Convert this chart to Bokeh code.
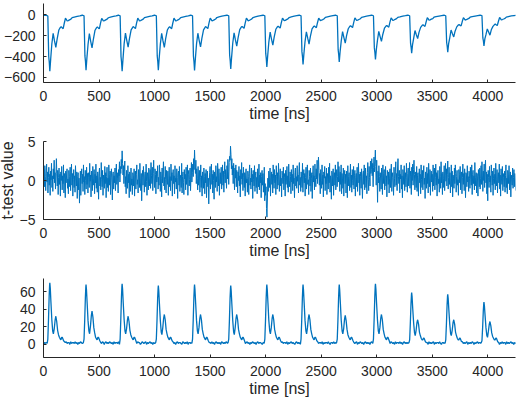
import numpy as np
from bokeh.plotting import figure
from bokeh.layouts import column
from bokeh.models import FixedTicker, Range1d
from bokeh.embed import file_html
from bokeh.resources import INLINE

LINE = "#0072BD"
AXIS = "#262626"
FONT = "Liberation Sans"

x_ticks = [0, 500, 1000, 1500, 2000, 2500, 3000, 3500, 4000]
x_label = "time [ns]"
mid_y_label = "t-test value"

# Time (ns) of the main extremum in each of the thirteen periods
cycle_t = [57, 383, 708, 1034, 1360, 1686, 2011, 2337, 2663, 2989, 3315, 3640, 3966]

# ---- top trace: sample offsets (ns) relative to each cycle's minimum, and values
top_offsets = [-30, -18, -10, -5, 0, 8, 18, 30, 42, 54, 66, 81, 95, 102, 112,
               120, 130, 141, 148, 156, 166, 177, 190, 201, 220, 246, 270, 291]
top_lead_t = [0]
top_lead_v = [-4]
top_cycles = [
    [-4, -10, -400, -455, -542, -420, -280, -177, -250, -313, -230, -145, -120, -113, -125, -132, -80, -32, -42, -58, -55, -48, -40, -26, -20, -13, -8, -3],
    [-3, -9, -394, -447, -532, -412, -284, -180, -254, -318, -234, -147, -122, -115, -127, -134, -81, -33, -43, -58, -55, -48, -40, -27, -20, -13, -8, -3],
    [-3, -9, -401, -455, -542, -420, -278, -175, -247, -310, -228, -144, -119, -112, -124, -131, -79, -32, -42, -57, -54, -48, -40, -26, -20, -13, -8, -3],
    [-3, -9, -394, -447, -532, -412, -281, -178, -250, -312, -229, -145, -120, -113, -125, -132, -80, -32, -42, -57, -54, -47, -39, -26, -20, -13, -8, -3],
    [-3, -9, -396, -449, -535, -415, -278, -176, -247, -308, -226, -143, -119, -112, -124, -131, -79, -31, -41, -56, -54, -47, -39, -25, -19, -12, -7, -3],
    [-3, -9, -385, -437, -520, -403, -272, -172, -240, -300, -221, -141, -117, -110, -121, -128, -78, -31, -41, -56, -53, -46, -38, -25, -19, -12, -7, -3],
    [-3, -9, -370, -420, -500, -388, -261, -165, -232, -290, -213, -138, -114, -108, -119, -126, -76, -30, -40, -55, -52, -45, -38, -25, -19, -12, -7, -3],
    [-3, -9, -353, -401, -477, -370, -256, -162, -224, -280, -206, -135, -112, -106, -116, -123, -75, -30, -40, -54, -51, -45, -37, -24, -18, -12, -7, -3],
    [-3, -8, -334, -380, -452, -350, -250, -160, -218, -272, -200, -133, -110, -104, -114, -121, -74, -29, -39, -53, -50, -44, -37, -24, -18, -12, -7, -3],
    [-3, -8, -317, -360, -429, -332, -245, -158, -208, -255, -188, -128, -107, -101, -111, -117, -72, -29, -38, -52, -49, -43, -36, -23, -18, -11, -7, -3],
    [-3, -8, -272, -309, -368, -285, -225, -150, -190, -228, -168, -120, -100, -95, -104, -110, -68, -27, -36, -50, -47, -41, -35, -22, -17, -11, -6, -3],
    [-3, -8, -265, -301, -358, -277, -220, -145, -180, -212, -156, -115, -97, -92, -101, -106, -66, -26, -35, -49, -46, -40, -34, -22, -17, -11, -6, -3],
    [-3, -7, -221, -250, -298, -231, -190, -135, -165, -195, -143, -110, -93, -88, -96, -102, -63, -25, -34, -47, -44, -39, -33, -21, -16, -10, -6, -3],
]
top_y_ticks = [-600, -400, -200, 0]

# ---- middle trace: t-test statistic sampled every 4 ns
ttest_step = 4
ttest_vals = [
    0.3, 1.4, -0.8, 1.9, 0.5, -1.3, 0.9, 2.1, -0.2, 1.1, -1.6, 0.4, 1.7, -0.6, 0.8, -1.9, 1.2, 0.1, 2.2, -0.9,
    0.6, -1.4, 1.5, 0.2, 2.6, -0.3, 1.0, -1.1, 0.7, 2.8, 0.9, -0.7, 1.3, -1.8, 0.4, 1.6, -0.5, 0.8, -2.0, 1.1,
    0.0, 1.8, -1.2, 0.6, -0.4, 2.0, -1.6, 0.9, 0.3, -2.2, 1.2, -0.3, 0.7, 1.5, -1.0, 0.2, -1.7, 1.3, 0.5, -0.8,
    1.7, -1.3, 0.4, 2.1, -0.6, 0.9, -2.0, 0.1, 1.4, -0.9, 0.6, -1.5, 1.9, 0.2, -0.7, 1.1, -2.3, 0.5, 1.0, -1.2,
    0.3, -2.9, -0.8, 1.2, -1.9, 0.6, 1.5, -0.4, 0.8, -1.4, 2.0, -0.2, 0.5, -1.8, 1.3, 0.0, -1.1, 1.7, -0.5, 0.9,
    -1.6, 1.0, 0.4, -0.9, 2.2, -0.1, 0.7, -2.1, 1.2, 0.3, -1.3, 1.8, -0.6, 0.2, 1.4, -1.7, 0.8, -0.3, 2.1, -1.0,
    0.6, -1.5, 1.1, 0.2, -2.4, 0.9, 1.6, -0.7, 0.4, -1.2, 2.3, 0.1, -0.8, 1.3, -1.9, 0.7, 0.2, -1.0, 1.8, -0.4,
    1.0, -2.2, 0.5, 1.7, -0.9, 0.3, -1.4, 2.0, 0.8, -0.6, 1.2, -1.8, 0.4, 1.5, -0.2, -2.5, 0.9, 1.1, -1.1, 0.6,
    -0.3, 1.6, -1.3, 0.7, 2.1, -0.5, 1.0, 0.2, -1.6, 1.4, 0.6, 2.4, -0.2, 1.8, 0.9, 2.7, 1.5, 3.8, 2.2, 0.7,
    1.9, -0.4, 1.2, 2.5, -0.8, 0.5, -1.7, 1.3, 0.1, -1.0, 1.9, -0.3, 0.8, -2.2, 1.1, 0.4, -1.4, 1.6, -0.6, 0.2,
    -1.8, 1.0, 0.6, -0.7, 1.5, -2.0, 0.3, 1.2, -1.1, 0.8, 2.0, -0.5, 0.1, -1.6, 1.4, 0.7, -0.9, 2.2, -0.2, -1.3,
    0.9, -2.6, 0.4, 1.3, -0.6, 1.8, 0.2, -1.5, 0.7, 1.1, -0.8, 2.1, -0.1, -1.9, 1.0, 0.5, -1.2, 1.6, 0.3, -0.7,
    1.4, -1.0, 2.3, 0.6, -0.4, 1.7, -1.3, 0.9, 2.6, 0.2, -0.9, 1.5, 0.8, -1.7, 1.2, -0.2, 0.5, 1.9, -1.1, 0.4,
    -0.6, 2.0, 0.7, -1.4, 1.1, 0.3, -2.1, 1.6, -0.3, 0.9, 2.4, -0.7, 0.4, -1.2, 1.8, 0.1, -1.6, 1.3, 0.6, -0.5,
    1.2, -1.9, 0.2, 1.7, -0.8, 0.5, -1.3, 2.1, 0.0, 1.0, -2.0, 0.8, 1.4, -0.4, 0.6, -1.7, 1.9, -0.2, 0.3, -1.1,
    1.5, 0.4, -2.3, 0.9, 1.2, -0.6, 1.8, -1.4, 0.3, 0.7, -0.9, 2.2, -1.6, 0.5, 1.1, -0.3, -1.8, 1.4, 0.2, 0.8,
    -1.2, 1.7, -0.5, 0.4, 2.0, -1.9, 0.8, 1.3, -0.7, 0.1, 1.6, -1.3, 0.6, 2.3, -0.2, 1.0, 2.1, 0.5, 2.8, 1.4,
    3.9, 2.2, 0.9, 2.6, -0.4, 1.5, 0.3, -1.2, 1.8, -0.6, 0.7, 1.3, -1.5, 0.4, 2.0, -0.9, 0.6, -2.0, 1.1, 0.2,
    -1.0, 1.6, 0.5, -1.7, 0.9, -0.3, 1.4, -2.2, 0.7, 1.2, -0.8, 0.3, -3.0, -0.6, 1.0, 1.8, -1.1, 0.4, 2.1, -0.5,
    0.8, -1.6, 1.3, 0.0, -2.4, 1.1, 0.6, -0.9, 1.9, -0.2, 0.5, -1.4, 2.2, 0.9, -0.7, 1.5, -1.9, 0.3, 1.0, -0.4,
    1.7, -1.1, 0.4, 2.0, -0.6, 1.2, -1.5, 0.8, 2.4, -0.3, 1.4, 0.6, -1.0, 1.9, 0.2, 2.7, 1.1, -0.5, 2.3, 3.1,
    2.6, 4.4, 3.3, 1.5, 2.8, 0.7, 1.9, -0.4, 2.2, 0.9, -1.2, 1.6, 0.3, 2.0, -0.8, 1.3, 0.5, -1.6, 1.1, 0.0,
    1.8, -0.7, 0.6, -2.1, 1.4, 0.2, 2.3, -0.5, 0.9, -1.3, 1.7, 0.4, -0.9, 1.0, -2.0, 0.7, 1.5, -0.3, 0.2, -1.5,
    1.2, 0.5, -1.8, 0.9, 2.0, -0.6, 0.3, -1.1, 1.6, -0.2, 0.8, -2.3, 1.3, 0.1, -0.7, 1.9, -1.4, 0.6, 1.1, -0.9,
    0.4, -1.7, 1.5, 0.2, -0.8, 2.1, -1.2, 0.7, -0.3, 1.0, -2.2, 0.5, 1.3, -0.6, 0.9, -1.5, 0.1, 1.7, -2.6, -0.4,
    -1.9, -0.8, -3.6, -4.7, -2.5, 0.3, -1.4, 1.2, 0.6, -0.9, 1.6, -2.0, 0.4, 1.1, -0.5, 0.8, -1.6, 2.0, 0.2, -1.0,
    1.4, -0.3, 0.7, -1.8, 1.9, 0.5, -1.1, 1.0, -0.6, 2.2, 0.1, -1.4, 0.8, 1.5, -0.7, 0.3, -2.1, 1.2, 0.6, -0.4,
    1.7, -1.2, 0.4, 0.9, -2.0, 1.3, -0.5, 0.2, 1.8, -0.9, 0.6, -1.5, 2.1, 0.0, -0.8, 1.1, 0.5, -1.7, 1.4, -0.2,
    0.8, -1.3, 2.0, -0.4, 0.3, -2.2, 1.0, 1.6, -0.7, 0.5, -1.0, 1.9, -0.1, 0.7, -1.6, 1.2, 2.3, -0.6, 0.4, -1.4,
    1.1, 0.2, -0.9, 2.2, -1.5, 0.6, 1.4, -0.3, 0.9, -2.0, 0.4, 1.7, -1.1, 0.8, 2.0, -0.5, 0.1, -1.8, 1.3, 0.5,
    -0.7, 1.6, -1.4, 0.3, 1.0, -2.3, 0.8, 1.9, -0.2, 0.6, -1.2, 2.1, 0.4, -0.8, 1.5, 0.2, 2.6, -0.4, 1.2, 3.0,
    1.3, -0.6, 0.9, -1.7, 1.4, 0.0, -1.0, 2.0, -0.5, 0.7, -2.1, 1.1, 0.3, 1.8, -1.3, 0.5, -0.4, 1.6, -1.8, 0.9,
    0.2, -1.1, 1.7, -0.3, 2.2, -1.5, 0.6, 0.1, -2.4, 1.2, 0.8, -0.7, 1.5, -1.9, 0.4, 1.0, -0.6, 2.0, -1.2, 0.3,
    1.4, -0.8, 0.5, 2.4, -0.2, 1.8, 0.7, -1.4, 1.1, -0.5, 2.0, -1.7, 0.9, 0.2, -1.0, 1.6, -2.0, 0.6, 1.3, -0.4,
    0.8, -1.6, 1.2, 0.3, -2.2, 1.9, -0.7, 0.5, 1.0, -1.3, 0.2, 2.1, -0.9, 0.7, -1.5, 1.4, 0.0, -0.6, 1.8, -1.1,
    0.6, 1.3, -2.0, 0.4, 0.9, -0.8, 1.7, -1.4, 0.1, 2.2, -0.3, 0.8, -1.9, 1.1, 0.5, -1.0, 1.5, -0.4, -2.3, 0.7,
    1.2, -0.5, 2.0, -1.2, 0.3, 1.6, -0.9, 0.6, -1.7, 1.0, 2.3, 0.1, -1.3, 1.8, 0.4, -0.7, 2.5, 0.9, 1.4, 2.8,
    0.6, 2.2, -0.8, 1.7, 3.0, 1.1, 2.4, 3.9, 1.8, -0.6, 2.6, 0.4, -2.8, 1.2, -0.3, 1.9, 0.5, -1.4, 1.0, 0.2,
    -1.1, 1.6, 0.4, -1.8, 2.0, -0.4, 0.9, 1.4, -1.2, 0.3, 1.8, -0.7, 0.6, -2.1, 1.3, 0.8, -0.5, 1.1, -1.6, 0.2,
    1.5, -0.9, 0.7, 2.1, -1.4, 0.4, 1.0, -0.2, -1.9, 1.7, 0.3, -0.8, 1.2, 2.4, -0.6, 0.9, -1.3, 1.6, 2.8, 0.5,
    -0.4, 1.3, -1.6, 0.8, 0.2, 2.0, -1.1, 0.6, -2.2, 1.4, 0.7, -0.5, 1.9, -1.3, 0.1, 1.0, -0.8, 2.2, 0.4, -1.5,
    0.9, 1.6, -0.7, 0.3, 2.3, -1.0, 1.2, 0.5, -1.8, 1.7, 0.0, 2.1, -0.6, 1.4, 2.6, 0.8, -1.2, 1.1, 0.2, -0.9,
    1.8, -1.4, 0.6, 1.0, -2.0, 0.4, 1.5, -0.3, 0.8, -1.7, 2.0, 0.1, -0.9, 1.3, -1.2, 0.7, 1.9, -0.5, 0.3, -2.3,
    1.1, 0.5, -1.0, 1.7, -0.4, 0.9, -1.6, 2.2, 0.2, -0.8, 1.4, -1.9, 0.6, 1.2, -0.2, 0.8, -1.4, 2.0, -0.7, 0.3,
    1.6, -1.2, 0.4, 2.1, -0.6, 1.0, -2.0, 0.7, 1.3, -0.4, 0.2, -1.5, 1.8, 0.5, -1.0, 2.4, -0.3, 0.9, -1.8, 1.1,
    0.3, -0.9, 1.9, -1.3, 0.6, 2.2, -0.1, 1.5, -0.7, 0.8, 2.5, -1.1, 0.4, 1.7, -0.5, 1.0, -1.6, 0.2, 2.0, -0.8,
    1.2, -2.1, 0.7, 0.3, -1.0, 1.6, -0.4, 2.0, 0.9, -1.5, 0.5, 1.3, -0.6, 0.1, -1.9, 1.4, 0.8, -0.3, 1.8, -1.2,
    0.6, 1.1, -1.7, 0.4, 2.1, -0.5, 0.9, -1.3, 1.5, 0.2, -2.2, 1.0, 0.7, -0.8, 1.9, -0.2, 0.5, -1.4, 1.2, 0.3,
    -1.0, 1.7, 0.1, -0.6, 2.0, -1.8, 0.8, 1.3, -0.4, 0.6, -1.2, 2.3, -0.7, 0.4, 1.0, -1.6, 0.9, 0.2, -2.0, 1.4,
    0.5, -0.8, 1.6, -1.1, 0.3, 1.9, -0.5, 2.4, 0.7, -1.4, 1.2, 0.0, 2.1, -0.9, 1.5, 2.6, -0.3, 1.1, -1.7, 0.8,
    -2.6, 1.3, 0.4, -0.9, 1.8, -0.2, 0.6, -1.5, 2.0, 0.9, -0.6, 1.2, -1.9, 0.3, 1.6, -0.4, 0.8, -1.2, 2.2, 0.1,
    -0.7, 1.4, -1.6, 0.5, 1.0, -0.3, 2.1, -1.1, 0.7, -2.0, 1.5, 0.2, -0.5, 1.8, -1.3, 0.9, 0.4, -0.8, 1.2, -1.5,
    0.6, 2.0, -0.9, 0.3, -1.7, 1.3, 0.8, -0.4, 1.9, -1.2, 0.5, 1.1, -2.1, 0.7, 0.2, -0.6, 1.6, -1.0, 0.4, 1.4,
    -0.8, 0.9, 0.2, -1.3,
]
mid_y_ticks = [-5, 0, 5]

# ---- bottom trace: offsets (ns) relative to each cycle's peak, and values
bot_offsets = [-30, -24, -18, -12, -6, -2, 0, 4, 10, 18, 26, 32, 40, 48, 54, 62,
               70, 78, 86, 94, 100, 106, 112, 118, 124, 132, 140, 148, 156, 164,
               172, 180, 188, 196, 204, 212, 220, 228, 236, 244, 252, 260, 268,
               276, 284, 292]
bot_lead_t = [0, 8, 16, 22]
bot_lead_v = [0, 2, 1, 2]
bot_cycles = [
    [2, 1, 6, 28, 55, 67, 70, 64, 48, 28, 15, 12, 18, 28, 32, 26, 16, 11, 8, 6, 5, 8, 8, 6, 4, 3, 2, 3, 1, 2, 2, 0, 3, 1, 2, 2, 1, 3, 1, 2, 0, 2, 1, 3, 2, 1],
    [1, 2, 6, 27, 53, 65, 68, 62, 47, 27, 15, 12, 21, 33, 38, 31, 19, 13, 8, 6, 5, 8, 8, 6, 4, 2, 1, 3, 2, 0, 2, 3, 1, 2, 1, 3, 2, 1, 2, 0, 3, 1, 2, 2, 1, 3],
    [2, 0, 6, 28, 54, 66, 69, 63, 47, 28, 15, 12, 18, 28, 32, 26, 16, 11, 8, 6, 5, 8, 8, 6, 4, 1, 3, 2, 2, 0, 1, 3, 2, 1, 2, 3, 0, 2, 1, 2, 3, 1, 2, 0, 2, 1],
    [1, 2, 6, 27, 53, 64, 67, 61, 46, 27, 14, 11, 19, 30, 34, 28, 17, 12, 8, 6, 5, 8, 8, 6, 4, 3, 1, 2, 0, 2, 3, 1, 2, 2, 1, 0, 3, 2, 1, 2, 1, 3, 0, 2, 2, 1],
    [2, 1, 6, 27, 53, 65, 68, 62, 47, 27, 15, 12, 19, 30, 34, 28, 17, 12, 8, 6, 5, 8, 8, 6, 4, 2, 2, 1, 3, 1, 2, 0, 2, 3, 1, 2, 1, 2, 0, 3, 2, 1, 2, 1, 3, 2],
    [1, 2, 6, 27, 53, 64, 67, 61, 46, 27, 14, 11, 19, 30, 34, 28, 17, 12, 8, 6, 5, 8, 8, 6, 4, 1, 2, 3, 1, 2, 0, 2, 1, 3, 2, 1, 2, 0, 2, 3, 1, 2, 2, 1, 0, 2],
    [2, 1, 6, 27, 53, 65, 68, 62, 47, 27, 15, 12, 19, 30, 34, 28, 17, 12, 8, 6, 5, 8, 8, 6, 4, 2, 3, 1, 2, 2, 1, 3, 0, 2, 1, 2, 3, 1, 2, 1, 0, 2, 3, 1, 2, 1],
    [2, 0, 6, 27, 53, 65, 68, 62, 47, 27, 15, 12, 19, 30, 34, 28, 17, 12, 8, 6, 5, 8, 8, 6, 4, 3, 1, 2, 2, 1, 3, 0, 2, 1, 2, 2, 1, 3, 1, 0, 2, 2, 1, 3, 1, 2],
    [1, 2, 6, 27, 53, 65, 68, 62, 47, 27, 15, 12, 18, 29, 33, 27, 17, 11, 8, 6, 5, 8, 8, 6, 4, 2, 1, 2, 3, 0, 2, 1, 3, 2, 1, 2, 0, 2, 3, 1, 2, 1, 2, 0, 2, 3],
    [2, 1, 6, 28, 54, 66, 69, 63, 47, 28, 15, 12, 19, 30, 34, 28, 17, 12, 8, 6, 5, 8, 8, 6, 4, 1, 3, 2, 1, 2, 0, 3, 1, 2, 2, 1, 3, 1, 2, 0, 2, 3, 1, 2, 1, 2],
    [1, 2, 5, 24, 46, 56, 59, 54, 40, 24, 13, 10, 16, 25, 28, 23, 14, 10, 7, 5, 5, 7, 7, 5, 3, 2, 2, 0, 3, 1, 2, 1, 2, 3, 0, 2, 1, 2, 2, 1, 3, 1, 0, 2, 2, 1],
    [2, 1, 5, 23, 45, 55, 57, 52, 39, 23, 12, 10, 16, 25, 28, 23, 14, 10, 7, 5, 5, 7, 7, 5, 3, 3, 1, 2, 1, 2, 3, 0, 2, 1, 2, 1, 3, 2, 0, 2, 1, 2, 3, 1, 2, 2],
    [1, 2, 4, 19, 38, 46, 48, 44, 33, 19, 10, 8, 15, 23, 26, 21, 13, 9, 7, 5, 5, 7, 7, 5, 3, 2, 0, 2, 1, 3, 1, 2, 2, 0, 3, 1, 2, 1, 2, 3, 1, 2, 0, 2, 1, 2],
]
bot_y_ticks = [0, 20, 40, 60]

# the axis title on the middle panel widens every aligned left border;
# the column is pulled left by the same amount so the frames stay in place
SHIFT = 8
FIG_W = 521 + SHIFT


def assemble(lead_t, lead_v, offsets, cycles):
    ts, vs = list(lead_t), list(lead_v)
    for c0, vals in zip(cycle_t, cycles):
        for o, v in zip(offsets, vals):
            ts.append(c0 + o)
            vs.append(v)
    return np.array(ts, dtype=float), np.array(vs, dtype=float)


def panel(height, border_top, border_bottom, y_lo, y_hi, y_ticks):
    p = figure(width=FIG_W, height=height,
               x_range=Range1d(0, 4250), y_range=Range1d(y_lo, y_hi),
               output_backend="svg", toolbar_location=None,
               min_border_left=43 + SHIFT, min_border_right=6,
               min_border_top=border_top, min_border_bottom=border_bottom)
    p.outline_line_color = None
    p.grid.visible = False
    p.background_fill_color = "white"
    p.border_fill_color = "white"
    p.xaxis.ticker = FixedTicker(ticks=x_ticks)
    p.yaxis.ticker = FixedTicker(ticks=y_ticks)
    for ax in p.axis:
        ax.axis_line_color = AXIS
        ax.axis_line_width = 1
        ax.major_tick_line_color = AXIS
        ax.major_tick_in = 3
        ax.major_tick_out = 0
        ax.minor_tick_in = 0
        ax.minor_tick_out = 0
        ax.major_label_text_font = FONT
        ax.major_label_text_font_size = "14px"
        ax.major_label_text_color = AXIS
        ax.axis_label_text_font = FONT
        ax.axis_label_text_font_size = "16px"
        ax.axis_label_text_font_style = "normal"
        ax.axis_label_text_color = AXIS
    p.xaxis.axis_label = x_label
    p.xaxis.major_label_standoff = 8
    p.xaxis.axis_label_standoff = 1
    p.yaxis.major_label_standoff = 8
    return p


top_t, top_v = assemble(top_lead_t, top_lead_v, top_offsets, top_cycles)
bot_t, bot_v = assemble(bot_lead_t, bot_lead_v, bot_offsets, bot_cycles)
mid_t = np.arange(len(ttest_vals)) * ttest_step

p1 = panel(130, 3, 48, -650, 110, top_y_ticks)
p1.line(top_t, top_v, line_color=LINE, line_width=1.3)

p2 = panel(136, 11, 47, -5, 5, mid_y_ticks)
p2.line(mid_t, ttest_vals, line_color=LINE, line_width=1.0)
p2.yaxis.axis_label = mid_y_label
p2.yaxis.axis_label_standoff = 1

p3 = panel(138, 12, 47, -15, 75, bot_y_ticks)
p3.line(bot_t, bot_v, line_color=LINE, line_width=1.3)

layout = column(p1, p2, p3, spacing=0, margin=(0, 0, 0, -SHIFT))
open("out.html", "w").write(file_html(layout, INLINE))
